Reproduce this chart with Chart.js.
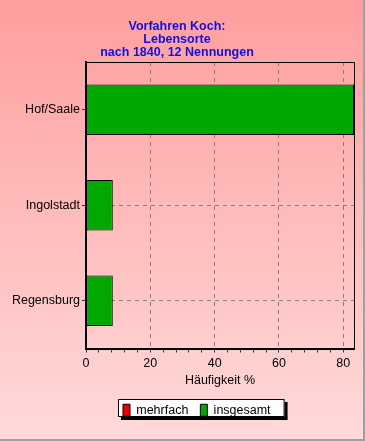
<!DOCTYPE html>
<html><head><meta charset="utf-8">
<script src="https://cdn.jsdelivr.net/npm/chart.js@4.4.0/dist/chart.umd.min.js"></script>
<style>html,body{margin:0;padding:0;background:#fff}#wrap{width:365px;height:441px;position:relative}</style>
</head><body><div id="wrap"><canvas id="c" width="365" height="441"></canvas></div>
<script>
const titleLines = ['Vorfahren Koch:', 'Lebensorte', 'nach 1840, 12 Nennungen'];
const categories = ['Hof/Saale', 'Ingolstadt', 'Regensburg'];
const seriesNames = ['mehrfach', 'insgesamt'];
const mehrfach = [0, 0, 0];
const insgesamt = [83.33, 8.33, 8.33];
const xAxisTitle = 'Häufigkeit %';
const xMin = 0;
const xMax = 83.33;
const majorStep = 20;
const minorStep = 4;

const FONT = "'Liberation Sans', Arial, sans-serif";
const isMajor = v => Math.abs(v / majorStep - Math.round(v / majorStep)) < 1e-6;

const decor = {
  id: 'decor',
  afterLayout(chart) {
    const lg = chart.legend;
    if (lg) {
      const h = lg.height;
      lg.top = 392; lg.bottom = 392 + h;
      const w = lg.width;
      lg.left = 111; lg.right = 111 + w;
    }
  },
  beforeDraw(chart) {
    const ctx = chart.ctx, W = chart.width, H = chart.height;
    ctx.save();
    const g = ctx.createLinearGradient(0, 0, 0, H);
    g.addColorStop(0, '#FF9E9E');
    g.addColorStop(1, '#FFDADA');
    ctx.fillStyle = g;
    ctx.fillRect(0, 0, W, H);
    ctx.fillStyle = '#A0A0A0';
    ctx.fillRect(W - 2, 0, 2, H);
    ctx.fillRect(0, H - 2, W, 2);
    const hb = chart.legend && chart.legend.legendHitBoxes;
    if (hb && hb.length) {
      const x0 = hb[0].left - 5;
      const x1 = hb[hb.length - 1].left + hb[hb.length - 1].width + 14;
      const y0 = hb[0].top - 5;
      const y1 = hb[0].top + 13;
      ctx.fillStyle = '#000';
      ctx.fillRect(x0 + 3, y0 + 3, x1 - x0, y1 - y0);
      ctx.fillStyle = '#fff';
      ctx.fillRect(x0, y0, x1 - x0, y1 - y0);
      ctx.strokeStyle = '#000';
      ctx.lineWidth = 1;
      ctx.strokeRect(x0 + 0.5, y0 + 0.5, x1 - x0 - 1, y1 - y0 - 1);
    }
    ctx.restore();
  },
  afterDraw(chart) {
    const ctx = chart.ctx, a = chart.chartArea;
    ctx.save();
    ctx.strokeStyle = '#000';
    ctx.lineWidth = 1;
    ctx.beginPath();
    ctx.moveTo(a.left, Math.floor(a.top) + 0.5);
    ctx.lineTo(Math.round(a.right) + 0.5, Math.floor(a.top) + 0.5);
    ctx.lineTo(Math.round(a.right) + 0.5, a.bottom);
    ctx.stroke();
    ctx.restore();
  }
};

new Chart(document.getElementById('c'), {
  type: 'bar',
  data: {
    labels: categories,
    datasets: [
      { label: seriesNames[0], data: mehrfach, backgroundColor: '#F00000', borderColor: '#000', borderWidth: 1, borderSkipped: false },
      { label: seriesNames[1], data: insgesamt, backgroundColor: '#00A800', borderColor: '#000', borderWidth: 1, borderSkipped: false }
    ]
  },
  options: {
    indexAxis: 'y',
    responsive: false,
    devicePixelRatio: 1,
    animation: false,
    datasets: { bar: { grouped: false, barPercentage: 0.53, categoryPercentage: 1.0 } },
    layout: { padding: { left: 0, right: 11, top: 0, bottom: 13 } },
    plugins: {
      tooltip: { enabled: false },
      title: {
        display: true,
        text: titleLines,
        color: '#1010E0',
        font: { family: FONT, size: 12.5, weight: 'bold', lineHeight: 13 / 12.5 },
        padding: { top: 20.5, bottom: 2.5 }
      },
      legend: {
        display: true,
        position: 'bottom',
        align: 'start',
        labels: {
          boxWidth: 7,
          boxHeight: 12,
          padding: 12,
          color: '#000',
          font: { family: FONT, size: 12.5 }
        }
      }
    },
    scales: {
      x: {
        type: 'linear',
        min: xMin,
        max: xMax,
        afterFit(s) { s.height = 45; },
        ticks: {
          stepSize: minorStep,
          includeBounds: false,
          autoSkip: false,
          maxRotation: 0,
          padding: 4,
          color: '#000',
          font: { family: FONT, size: 12.5 },
          callback: v => isMajor(v) ? String(v) : ''
        },
        grid: {
          color: c => (c.tick && c.tick.value > 0 && isMajor(c.tick.value)) ? '#8C7C7C' : 'rgba(0,0,0,0)',
          lineWidth: 1,
          tickLength: 4,
          tickColor: '#333',
          tickBorderDash: []
        },
        border: { display: true, color: '#000', width: 2, dash: [4, 4] },
        title: {
          display: true,
          text: xAxisTitle,
          color: '#000',
          font: { family: FONT, size: 12.5 },
          padding: { top: 2, bottom: 5 }
        }
      },
      y: {
        type: 'category',
        position: 'left',
        afterFit(s) { s.width = 86; },
        ticks: {
          padding: 2,
          color: '#000',
          font: { family: FONT, size: 12.5 }
        },
        grid: {
          offset: false,
          color: '#8C7C7C',
          lineWidth: 1,
          tickLength: 4,
          tickColor: '#333',
          tickBorderDash: []
        },
        border: { display: true, color: '#000', width: 2, dash: [4, 4] }
      }
    }
  },
  plugins: [decor]
});
</script>
</body></html>
